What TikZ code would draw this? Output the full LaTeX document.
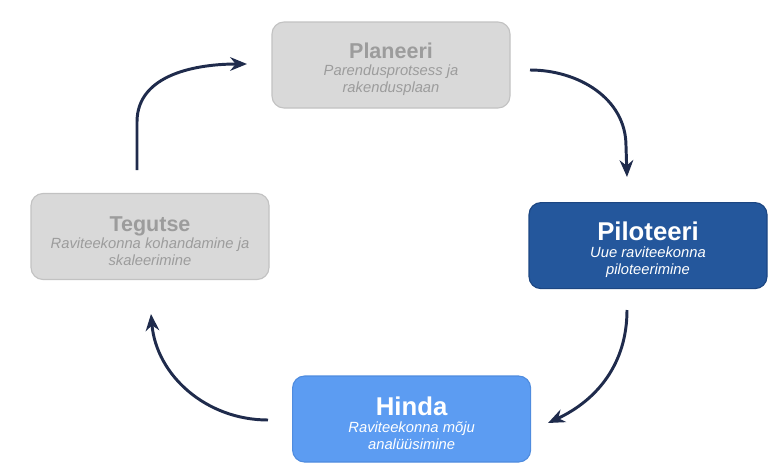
\documentclass[tikz,border=0pt]{standalone}
\usepackage{fontspec}
\setmainfont{Liberation Sans}
\usetikzlibrary{arrows.meta}

\definecolor{navy}{HTML}{1F2B4C}
\definecolor{boxgray}{HTML}{D9D9D9}
\definecolor{boxgrayline}{HTML}{C2C2C2}
\definecolor{textgray}{HTML}{9C9C9C}
\definecolor{darkblue}{HTML}{24579C}
\definecolor{darkblueline}{HTML}{1C4682}
\definecolor{lightblue}{HTML}{5C9CF2}
\definecolor{lightblueline}{HTML}{4F8CDF}

% title line of a stage box: size, strut height, text
\newcommand{\stagetitle}[3]{{\upshape\bfseries\fontsize{#1}{#1}\selectfont\rule{0pt}{#2}#3}}
% one italic line under the title
\newcommand{\stageline}[1]{{\itshape #1}}

\begin{document}
\begin{tikzpicture}
  [stage/.style={rounded corners=0.3cm,minimum width=5.95cm,minimum height=2.15cm,
     align=center,line width=0.8pt,font=\fontsize{10.5}{12}\selectfont},
   graybox/.style={stage,fill=boxgray,draw=boxgrayline,text=textgray},
   darkbox/.style={stage,fill=darkblue,draw=darkblueline,text=white},
   lightbox/.style={stage,fill=lightblue,draw=lightblueline,text=white},
   cyclearrow/.style={draw=navy,line width=2.1pt,-{Stealth[length=0.42cm,width=0.34cm]}}]

  \useasboundingbox (0,0) rectangle (19.225,-11.775);

  \node[graybox]  (plan)  at (9.775,-1.625)  {\stagetitle{15.3}{17pt}{Planeeri}\\\stageline{Parendusprotsess ja}\\\stageline{rakendusplaan}};
  \node[darkbox]  (pilot) at (16.2,-6.14)    {\stagetitle{18.3}{19pt}{Piloteeri}\\\stageline{Uue raviteekonna}\\\stageline{piloteerimine}};
  \node[lightbox] (hinda) at (10.29,-10.475) {\stagetitle{18.3}{19pt}{Hinda}\\\stageline{Raviteekonna mõju}\\\stageline{analüüsimine}};
  \node[graybox]  (teg)   at (3.75,-5.9125)  {\stagetitle{15.3}{17pt}{Tegutse}\\\stageline{Raviteekonna kohandamine ja}\\\stageline{skaleerimine}};

  \coordinate (a1) at (3.425,-4.25);
  \coordinate (b1) at (6.175,-1.6);
  \coordinate (a2) at (13.25,-1.75);
  \coordinate (b2) at (15.675,-4.425);
  \coordinate (a3) at (15.675,-7.75);
  \coordinate (b3) at (13.7,-10.575);
  \coordinate (a4) at (6.7,-10.5);
  \coordinate (b4) at (3.775,-7.85);

  \draw[cyclearrow] (a1) -- ++(0,1.2) to[out=90,in=180] (b1);
  \draw[cyclearrow] (a2) to[out=0,in=90] ++(2.4,-1.9) -- (b2);
  \draw[cyclearrow] (a3) to[out=-90,in=25] (b3);
  \draw[cyclearrow] (a4) to[out=180,in=-85] (b4);

\end{tikzpicture}
\end{document}
